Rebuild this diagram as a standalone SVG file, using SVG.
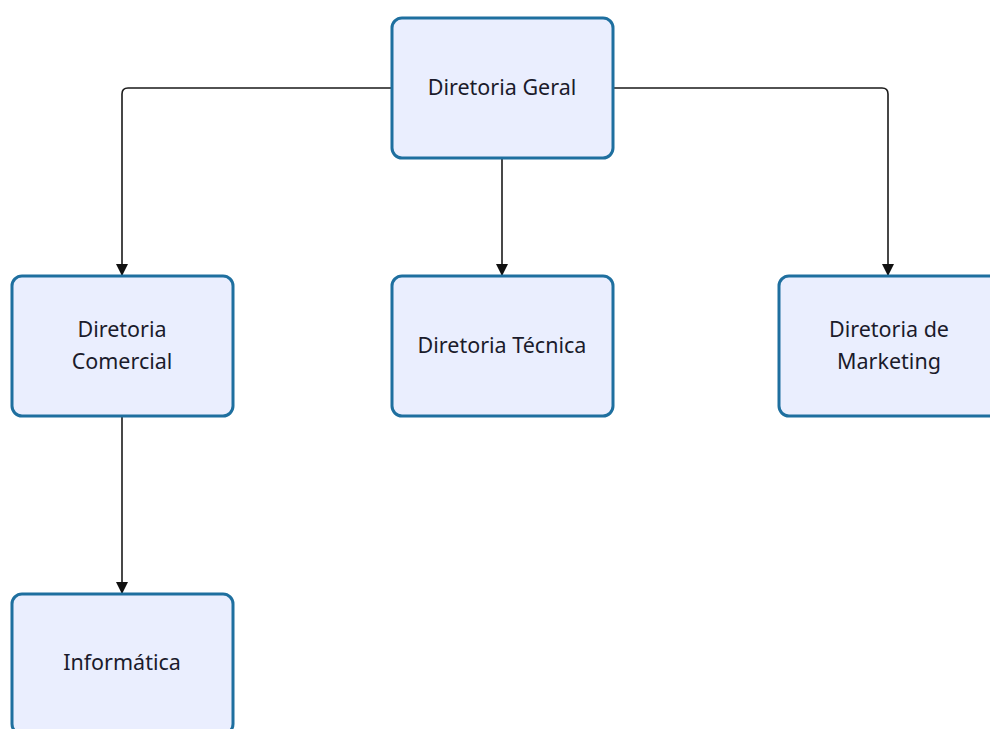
<svg xmlns="http://www.w3.org/2000/svg" width="990" height="729" viewBox="0 0 990 729">
<defs>
<style>
.node rect{fill:#eaeefe;stroke:#1e6f9f;stroke-width:3}
.node text{font-family:"Noto Sans","Open Sans",sans-serif;font-size:21.5px;fill:#1b1b2b;text-anchor:middle}
.edge{fill:none;stroke:#1a1a1a;stroke-width:1.6;marker-end:url(#arr)}
</style>
<marker id="arr" viewBox="0 0 12 12" refX="12" refY="6" markerWidth="12" markerHeight="12" markerUnits="userSpaceOnUse" orient="auto">
<path d="M0,0 L12,6 L0,12 z" fill="#111"/>
</marker>
</defs>
<rect width="990" height="729" fill="#fff"/>
<g id="connectors">
<path class="edge" d="M392,88 H128 Q122,88 122,94 V276"/>
<path class="edge" d="M613,88 H882 Q888,88 888,94 V276"/>
<path class="edge" d="M502,158 V276"/>
<path class="edge" d="M122,416 V594"/>
</g>
<g id="geral" class="node"><rect x="392" y="18" width="221" height="140" rx="10"/><text x="502" y="95">Diretoria Geral</text></g>
<g id="comercial" class="node"><rect x="12" y="276" width="221" height="140" rx="10"/><text x="122" y="337">Diretoria</text><text x="122" y="369">Comercial</text></g>
<g id="tecnica" class="node"><rect x="392" y="276" width="221" height="140" rx="10"/><text x="502" y="353">Diretoria Técnica</text></g>
<g id="marketing" class="node"><rect x="779" y="276" width="221" height="140" rx="10"/><text x="889" y="337">Diretoria de</text><text x="889" y="369">Marketing</text></g>
<g id="informatica" class="node"><rect x="12" y="594" width="221" height="140" rx="10"/><text x="122" y="670">Informática</text></g>
</svg>
